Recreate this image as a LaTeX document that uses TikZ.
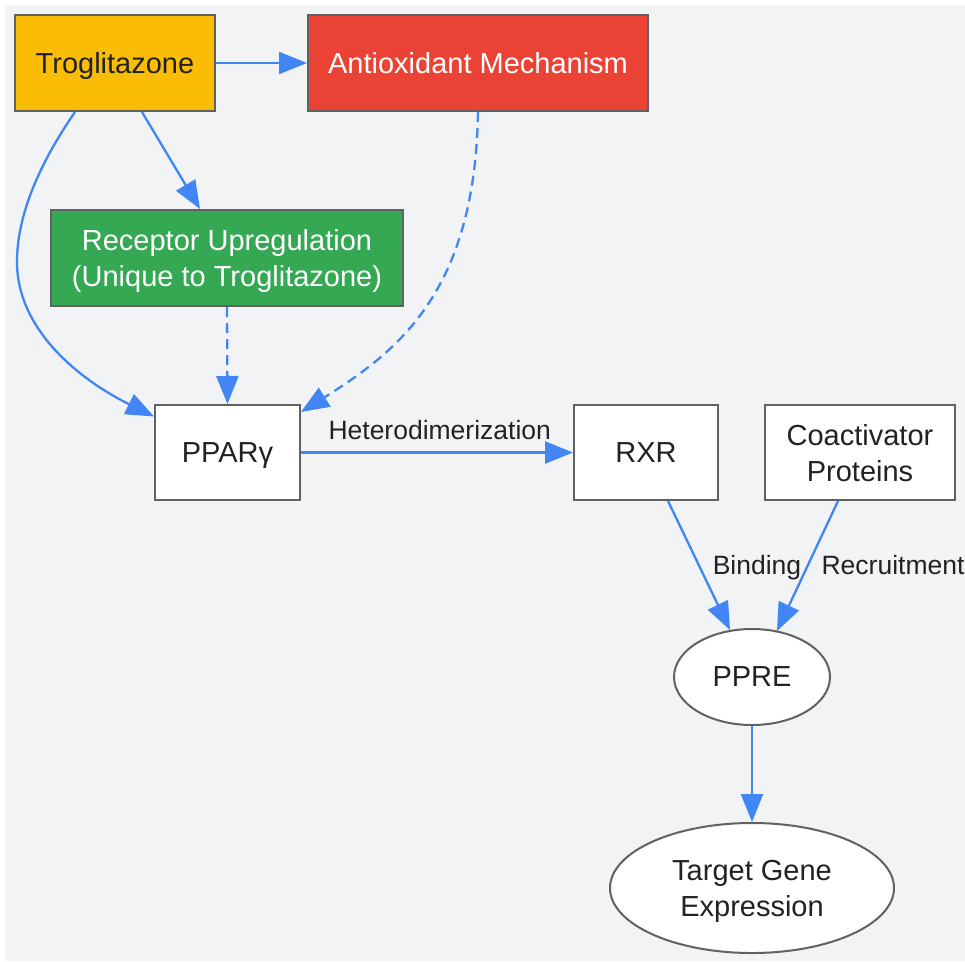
\documentclass[tikz,border=0pt]{standalone}
\usepackage{fontspec}
\setmainfont{Liberation Sans}
\usetikzlibrary{arrows.meta,shapes.geometric}
\definecolor{bgc}{HTML}{F1F3F5}
\definecolor{bord}{HTML}{616161}
\definecolor{ylw}{HTML}{FBBC05}
\definecolor{rdd}{HTML}{EA4335}
\definecolor{grn}{HTML}{34A853}
\definecolor{blu}{HTML}{4285F4}
\definecolor{txt}{HTML}{222222}
\tikzset{
  box/.style={draw=bord, line width=2pt, fill=white, inner sep=0pt, align=center,
    text=txt, text depth=0pt, font=\fontsize{29}{36}\selectfont},
  oval/.style={box, ellipse},
  conn/.style={draw=blu, line width=2.3pt, -{Triangle[length=28pt,width=22pt]}},
  dsh/.style={conn, dash pattern=on 10pt off 6pt},
  lbl/.style={text=txt, font=\fontsize{26.5}{30}\selectfont, inner sep=0pt, text depth=0pt}
}
\begin{document}
\begin{tikzpicture}[x=1pt,y=-1pt]
\useasboundingbox (0,0) rectangle (965,961);
\fill[bgc] (5,5) rectangle (965,961);
\node[box, fill=ylw, minimum width=200pt, minimum height=96pt] (trog) at (115,63) {Troglitazone};
\node[box, fill=rdd, text=white, minimum width=340pt, minimum height=96pt] (anti) at (478,63) {Antioxidant Mechanism};
\node[box, fill=grn, text=white, minimum width=352pt, minimum height=96pt] (rec) at (227,258) {Receptor Upregulation\\(Unique to Troglitazone)};
\node[box, minimum width=145pt, minimum height=95pt] (ppar) at (227.5,452.5) {PPARγ};
\node[box, minimum width=144pt, minimum height=95pt] (rxr) at (646,452.5) {RXR};
\node[box, minimum width=190pt, minimum height=95pt] (coact) at (860,452.5) {Coactivator\\Proteins};
\node[oval, minimum width=156pt, minimum height=96pt] (ppre) at (752,677) {PPRE};
\node[oval, minimum width=284pt, minimum height=130pt] (target) at (752,888) {Target Gene\\Expression};

\draw[conn] (trog.east) -- (anti.west);
\draw[conn] ([xshift=27pt]trog.south) -- ([xshift=-27pt]rec.north);
\draw[conn] ([xshift=-40pt]trog.south) .. controls (35,170) and (17,220) .. (17,262)
  .. controls (17,330) and (80,380) .. ([yshift=36pt]ppar.west);
\draw[dsh] (rec.south) -- (ppar.north);
\draw[dsh] (anti.south) .. controls (475,290) and (400,350) .. ([yshift=-8pt]ppar.north east);
\draw[conn] (ppar.east) -- node[lbl, pos=0.51, yshift=23pt] (lhet) {Heterodimerization} (rxr.west);
\draw[conn] ([xshift=22pt]rxr.south) -- ([xshift=-22pt,yshift=-2pt]ppre.north);
\draw[conn] ([xshift=-22pt]coact.south) -- ([xshift=25pt,yshift=-3pt]ppre.north);
\node[lbl] (lbind) at (757,565) {Binding};
\node[lbl] (lrec) at (893,565) {Recruitment};
\draw[conn] (ppre.south) -- (target.north);
\end{tikzpicture}
\end{document}
